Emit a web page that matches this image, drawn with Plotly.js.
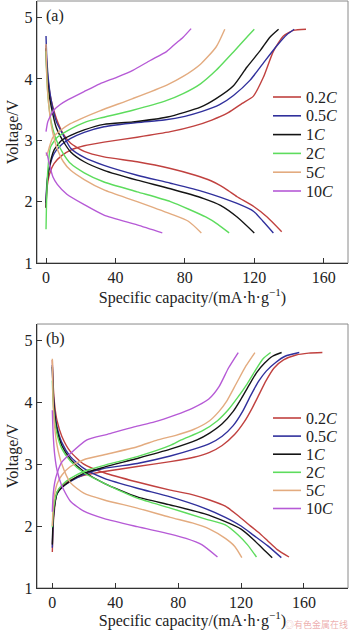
<!DOCTYPE html>
<html>
<head>
<meta charset="utf-8">
<script src="https://cdn.plot.ly/plotly-3.0.1.min.js"></script>
<style>html,body{margin:0;padding:0;background:#fff;}#chart{width:350px;height:630px;}</style>
</head>
<body>
<div id="chart"></div>
<script>
// ---------- DATA ----------
const rateLabels = ['0.2<i>C</i>', '0.5<i>C</i>', '1<i>C</i>', '2<i>C</i>', '5<i>C</i>', '10<i>C</i>'];
const xTicks = [0, 40, 80, 120, 160];
const yTicks = [1, 2, 3, 4, 5];

// Panel (a) — charge (c) and discharge (d), capacity in mA·h/g, voltage in V
const capA02c = [0, 0.5, 2, 4.6, 9, 14.2, 22, 33.4, 52.5, 71.7, 85, 95.5, 105, 113, 119.5, 125.3, 131, 136.8, 142.5, 149.8];
const vA02c   = [1.9, 2.2, 2.45, 2.62, 2.75, 2.84, 2.91, 2.97, 3.05, 3.14, 3.23, 3.33, 3.45, 3.6, 3.72, 4.03, 4.45, 4.7, 4.79, 4.81];
const capA02d = [0, 0.5, 1.5, 3, 6, 10, 14.2, 22, 33.4, 52.5, 71.7, 86, 95, 100.5, 105, 110.1, 119.7, 127.4, 135.8];
const vA02d   = [4.55, 4.2, 3.9, 3.65, 3.35, 3.1, 2.95, 2.82, 2.73, 2.65, 2.54, 2.43, 2.34, 2.26, 2.18, 2.08, 1.92, 1.75, 1.51];

const capA05c = [0, 0.5, 1.5, 4.6, 9, 14.2, 22, 33.4, 52.5, 68, 80, 90, 100, 108, 117.6, 125, 133, 138.7, 143];
const vA05c   = [1.98, 2.3, 2.5, 2.78, 2.93, 3.03, 3.13, 3.22, 3.29, 3.33, 3.39, 3.47, 3.58, 3.73, 3.98, 4.25, 4.54, 4.72, 4.81];
const capA05d = [0, 0.5, 1.5, 3, 6, 10, 14.2, 22, 33.4, 52.5, 71.7, 90.9, 110.1, 119.7, 125, 131];
const vA05d   = [4.7, 4.3, 3.95, 3.65, 3.3, 3.08, 2.87, 2.72, 2.59, 2.43, 2.30, 2.16, 1.97, 1.84, 1.68, 1.49];

const capA1c = [0, 0.5, 1.5, 4.6, 9, 14.2, 22, 33.4, 50, 70, 89, 98, 108, 115.7, 123.4, 129, 134];
const vA1c   = [1.9, 2.25, 2.5, 2.84, 3.0, 3.08, 3.17, 3.26, 3.3, 3.38, 3.54, 3.68, 3.89, 4.19, 4.46, 4.68, 4.81];
const capA1d = [0, 0.5, 1.5, 3, 6, 10, 14.2, 22, 33.4, 52.5, 71.7, 90.9, 100.5, 110.1, 120];
const vA1d   = [4.5, 4.1, 3.8, 3.55, 3.2, 2.98, 2.81, 2.65, 2.51, 2.35, 2.21, 2.05, 1.94, 1.75, 1.49];

const capA2c = [0, 0.3, 1, 2.6, 6.5, 12, 23, 31, 50, 69.6, 79, 89, 98, 108, 115.7, 120];
const vA2c   = [1.55, 2.0, 2.5, 2.89, 3.05, 3.15, 3.3, 3.36, 3.49, 3.65, 3.76, 3.92, 4.14, 4.44, 4.68, 4.81];
const capA2d = [0, 0.5, 1.5, 3, 6, 10, 14.2, 22, 33.4, 52.5, 71.7, 92, 99, 105.5];
const vA2d   = [4.45, 4.0, 3.6, 3.3, 3.0, 2.78, 2.62, 2.47, 2.32, 2.16, 2.0, 1.75, 1.63, 1.49];

const capA5c = [0, 1, 2, 4, 8.2, 14, 20, 31, 50, 69.6, 79, 89, 98, 103];
const vA5c   = [2.75, 2.8, 2.9, 3.05, 3.16, 3.27, 3.35, 3.48, 3.68, 3.9, 4.04, 4.24, 4.52, 4.81];
const capA5d = [0, 0.5, 1.5, 3, 6, 10, 14.2, 22, 33.4, 52.5, 71.7, 82, 89.5];
const vA5d   = [4.57, 4.0, 3.6, 3.25, 2.9, 2.65, 2.51, 2.36, 2.19, 2.0, 1.8, 1.68, 1.49];

const capA10c = [0, 1, 2.6, 4.4, 8, 12, 21.7, 31, 41, 50, 60, 69.6, 74.4, 79, 83.6];
const vA10c   = [3.14, 3.3, 3.4, 3.49, 3.58, 3.65, 3.79, 3.92, 4.03, 4.14, 4.3, 4.45, 4.57, 4.68, 4.82];
const capA10d = [0, 0.8, 2, 4, 6.5, 12, 22, 33.4, 52.5, 67];
const vA10d   = [2.8, 2.75, 2.6, 2.4, 2.28, 2.12, 1.95, 1.78, 1.62, 1.49];

// Panel (b)
const capB02c = [0, 0.5, 1.5, 3, 6, 11.5, 20, 33, 54, 75, 90, 100, 108, 116, 122, 127, 131, 136, 141, 147, 155, 163, 171.7];
const vB02c   = [1.58, 2.0, 2.3, 2.55, 2.65, 2.74, 2.82, 2.88, 2.96, 3.04, 3.11, 3.19, 3.3, 3.48, 3.68, 3.9, 4.1, 4.35, 4.55, 4.68, 4.76, 4.79, 4.80];
const capB02d = [0, 0.5, 1.5, 3, 6, 11.5, 20, 33, 54, 75, 90, 100, 110, 118, 125, 131, 137, 143, 150.5];
const vB02d   = [4.68, 4.3, 3.95, 3.7, 3.45, 3.2, 3.0, 2.86, 2.71, 2.58, 2.5, 2.42, 2.32, 2.17, 2.02, 1.9, 1.76, 1.62, 1.5];

const capB05c = [0, 0.5, 1.5, 3, 6, 11.5, 20, 33, 54, 75, 90, 100, 108, 115, 121, 126, 131, 136, 142, 148, 157];
const vB05c   = [1.65, 2.05, 2.35, 2.52, 2.62, 2.72, 2.83, 2.93, 3.01, 3.13, 3.24, 3.33, 3.45, 3.62, 3.85, 4.1, 4.33, 4.5, 4.64, 4.74, 4.80];
const capB05d = [0, 0.5, 1.5, 3, 6, 11.5, 20, 33, 54, 75, 96.5, 110, 120, 128, 137, 145.6];
const vB05d   = [4.6, 4.2, 3.85, 3.6, 3.35, 3.12, 2.93, 2.77, 2.61, 2.47, 2.29, 2.14, 2.0, 1.85, 1.68, 1.49];

const capB1c = [0, 0.5, 1.5, 3, 6, 11.5, 20, 33, 54, 75, 92, 100, 108, 115, 120, 125, 130, 135, 140, 145.8];
const vB1c   = [1.7, 2.1, 2.35, 2.52, 2.62, 2.73, 2.85, 2.95, 3.09, 3.24, 3.39, 3.5, 3.65, 3.85, 4.05, 4.27, 4.48, 4.63, 4.74, 4.80];
const capB1d = [0, 0.5, 1.5, 3, 6, 11.5, 20, 33, 54, 75, 96.5, 110, 120, 128, 134, 139.8];
const vB1d   = [4.57, 4.15, 3.8, 3.55, 3.3, 3.08, 2.88, 2.69, 2.47, 2.34, 2.2, 2.07, 1.95, 1.78, 1.63, 1.49];

const capB2c = [0, 0.5, 1.5, 3, 6, 11.5, 22, 33, 54, 75, 82, 95, 105, 112, 118, 124, 130, 134, 138.8];
const vB2c   = [1.98, 2.2, 2.4, 2.55, 2.66, 2.77, 2.9, 2.98, 3.12, 3.3, 3.39, 3.53, 3.7, 3.88, 4.08, 4.3, 4.55, 4.7, 4.8];
const capB2d = [0, 0.5, 1.5, 3, 6, 11.5, 20, 33, 54, 75, 96.5, 110, 118, 124, 129.8];
const vB2d   = [4.35, 4.0, 3.7, 3.48, 3.25, 3.05, 2.86, 2.69, 2.45, 2.29, 2.12, 2.02, 1.86, 1.7, 1.5];

const capB5c = [0, 0.5, 1.5, 3, 6, 11.5, 20, 33, 54, 67, 78, 89, 100, 106, 111, 117, 123, 128.8];
const vB5c   = [2.0, 2.3, 2.52, 2.68, 2.82, 2.96, 3.07, 3.15, 3.28, 3.39, 3.46, 3.55, 3.7, 3.85, 4.02, 4.3, 4.58, 4.80];
const capB5d = [0, 0.5, 1.5, 3, 6, 11.5, 20, 33, 54, 75, 89, 100, 110, 116, 120.5];
const vB5d   = [4.7, 4.0, 3.6, 3.3, 3.0, 2.7, 2.53, 2.42, 2.29, 2.14, 2.05, 1.95, 1.8, 1.67, 1.49];

const capB10c = [0, 0.5, 1.5, 3, 6, 11.5, 22, 35, 52, 65, 78, 89, 99.5, 106, 112, 118.2];
const vB10c   = [2.23, 2.5, 2.7, 2.85, 3.03, 3.17, 3.39, 3.48, 3.6, 3.68, 3.79, 3.9, 4.05, 4.25, 4.55, 4.80];
const capB10d = [0, 0.5, 1.5, 3, 6, 11.5, 20, 33, 54, 75, 85, 95, 105];
const vB10d   = [3.87, 3.5, 3.15, 2.9, 2.65, 2.4, 2.24, 2.12, 1.99, 1.87, 1.8, 1.7, 1.5];

// ---------- STYLE ----------
const colors = ['#c0413f', '#30309c', '#141414', '#5ddc5d', '#e3ab7f', '#b65ad6'];
const serif = 'Liberation Serif';

const panelA = [
  [capA02c, vA02c, capA02d, vA02d], [capA05c, vA05c, capA05d, vA05d], [capA1c, vA1c, capA1d, vA1d],
  [capA2c, vA2c, capA2d, vA2d], [capA5c, vA5c, capA5d, vA5d], [capA10c, vA10c, capA10d, vA10d]
];
const panelB = [
  [capB02c, vB02c, capB02d, vB02d], [capB05c, vB05c, capB05d, vB05d], [capB1c, vB1c, capB1d, vB1d],
  [capB2c, vB2c, capB2d, vB2d], [capB5c, vB5c, capB5d, vB5d], [capB10c, vB10c, capB10d, vB10d]
];

// pixel helpers for paper placement (plot area: x 37..348, y 1..588)
const W = 350, H = 630, ML = 37, MR = 2, MT = 1, MB = 42;
const px2x = px => (px - ML) / (W - ML - MR);
const px2y = py => (H - MB - py) / (H - MT - MB);

const traces = [];
function addPanel(panel, xa, ya) {
  panel.forEach((s, i) => {
    const line = {color: colors[i], width: 1.4, shape: 'spline', smoothing: 0.6};
    traces.push({x: s[0], y: s[1], xaxis: xa, yaxis: ya, mode: 'lines', line: line, name: rateLabels[i], showlegend: false});
    traces.push({x: s[2], y: s[3], xaxis: xa, yaxis: ya, mode: 'lines', line: line, name: rateLabels[i], showlegend: false});
  });
}
addPanel(panelA, 'x', 'y');
addPanel(panelB, 'x2', 'y2');

const tickFont = {family: serif, size: 16, color: '#222'};
const titleFont = {family: serif, size: 16, color: '#222'};
function xAxis(range, anchor) {
  return {range: range, anchor: anchor, tickvals: xTicks, ticks: 'inside', ticklen: 5, tickcolor: '#333',
    showline: true, linecolor: '#333', linewidth: 1.2, mirror: false, showgrid: false, zeroline: false,
    tickfont: tickFont, title: {text: 'Specific capacity/(mA·h·g<sup>−1</sup>)', font: titleFont, standoff: 0}};
}
function yAxis(range, domain, anchor) {
  return {range: range, domain: domain, anchor: anchor, tickvals: yTicks, ticks: 'inside', ticklen: 5, tickcolor: '#333',
    showline: true, linecolor: '#333', linewidth: 1.2, mirror: false, showgrid: false, zeroline: false,
    tickfont: tickFont, title: {text: 'Voltage/V', font: titleFont, standoff: 2}};
}

const shapes = [
  {type: 'rect', xref: 'x domain', yref: 'y domain', x0: 0, x1: 1, y0: 0, y1: 1, layer: 'below', line: {color: '#8a8a8a', width: 1}},
  {type: 'rect', xref: 'x2 domain', yref: 'y2 domain', x0: 0, x1: 1, y0: 0, y1: 1, layer: 'below', line: {color: '#8a8a8a', width: 1}}
];
const annotations = [];
// legend built from annotations + short line samples
function addLegend(rowY0, rowStep) {
  rateLabels.forEach((lab, i) => {
    const py = rowY0 + rowStep * i;
    shapes.push({type: 'line', xref: 'paper', yref: 'paper', x0: px2x(273), x1: px2x(301), y0: px2y(py), y1: px2y(py),
      line: {color: colors[i], width: 1.6}});
    annotations.push({text: lab, xref: 'paper', yref: 'paper', x: px2x(304), y: px2y(py), xanchor: 'left', yanchor: 'middle',
      showarrow: false, font: {family: serif, size: 16, color: '#222'}});
  });
}
addLegend(97, 18.8);
addLegend(418, 18.1);

annotations.push({text: '(a)', xref: 'paper', yref: 'paper', x: px2x(44), y: px2y(16), xanchor: 'left', yanchor: 'middle',
  showarrow: false, font: {family: serif, size: 16, color: '#222'}});
annotations.push({text: '(b)', xref: 'paper', yref: 'paper', x: px2x(44), y: px2y(339), xanchor: 'left', yanchor: 'middle',
  showarrow: false, font: {family: serif, size: 16, color: '#222'}});
annotations.push({text: '◎有色金属在线', xref: 'paper', yref: 'paper', x: px2x(349), y: px2y(624), xanchor: 'right', yanchor: 'middle',
  showarrow: false, borderpad: 0, font: {family: 'Noto Sans CJK SC', size: 9, color: 'rgba(225,120,120,0.6)'}});

const layout = {
  width: W, height: H,
  margin: {l: ML, r: MR, t: MT, b: MB},
  paper_bgcolor: '#ffffff', plot_bgcolor: '#ffffff',
  showlegend: false,
  xaxis: xAxis([-5.2, 174], 'y'),
  yaxis: yAxis([1, 5.27], [0.5537, 1], 'x'),
  xaxis2: xAxis([-9.75, 188], 'y2'),
  yaxis2: yAxis([1, 5.26], [0, 0.4497], 'x2'),
  shapes: shapes,
  annotations: annotations
};

Plotly.newPlot('chart', traces, layout, {displayModeBar: false, staticPlot: true});
</script>
</body>
</html>
